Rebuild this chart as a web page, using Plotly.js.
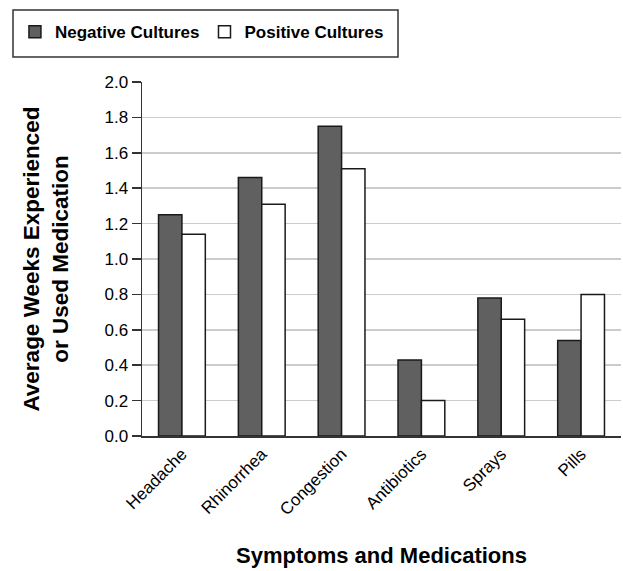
<!DOCTYPE html>
<html>
<head>
<meta charset="utf-8">
<script src="https://cdn.plot.ly/plotly-3.0.1.min.js"></script>
<style>html,body{margin:0;padding:0;background:#fff;}#chart{width:623px;height:571px;}</style>
</head>
<body>
<div id="chart"></div>
<script>
var categories = ["Headache", "Rhinorrhea", "Congestion", "Antibiotics", "Sprays", "Pills"];
var negativeCultures = [1.25, 1.46, 1.75, 0.43, 0.78, 0.54];
var positiveCultures = [1.14, 1.31, 1.51, 0.20, 0.66, 0.80];
var yTickVals = [0, 0.2, 0.4, 0.6, 0.8, 1.0, 1.2, 1.4, 1.6, 1.8, 2.0];
var yTickText = ["0.0", "0.2", "0.4", "0.6", "0.8", "1.0", "1.2", "1.4", "1.6", "1.8", "2.0"];

var FONT = "Liberation Sans, Arial, sans-serif";

var traces = [
  {
    type: "bar", name: "Negative Cultures", x: categories, y: negativeCultures,
    marker: {color: "#606060", line: {color: "#1a1a1a", width: 1.5}}
  },
  {
    type: "bar", name: "Positive Cultures", x: categories, y: positiveCultures,
    marker: {color: "#ffffff", line: {color: "#1a1a1a", width: 1.5}}
  }
];

var layout = {
  width: 623, height: 571,
  margin: {l: 142, r: 2, t: 82, b: 135},
  paper_bgcolor: "#fff", plot_bgcolor: "#fff",
  font: {family: FONT, color: "#000"},
  barmode: "group",
  bargap: 0.414,
  bargroupgap: 0,
  showlegend: true,
  legend: {
    orientation: "h",
    xref: "container", yref: "container",
    x: 0.024, y: 0.975, xanchor: "left", yanchor: "top",
    borderwidth: 0, bgcolor: "rgba(0,0,0,0)",
    font: {family: FONT, size: 17, color: "#000", weight: "bold"},
    itemwidth: 30,
    traceorder: "normal"
  },
  shapes: [{
    type: "rect", xref: "paper", yref: "paper", layer: "below",
    x0: (13 - 142) / 479, x1: (398 - 142) / 479,
    y0: 1 + (82 - 57) / 354, y1: 1 + (82 - 10) / 354,
    line: {color: "#333", width: 1.5}, fillcolor: "#fff"
  }],
  xaxis: {
    type: "category",
    tickangle: -45,
    tickfont: {family: FONT, size: 17, color: "#000"},
    showline: true, linecolor: "#333", linewidth: 1.5,
    ticks: "", showgrid: false,
    title: {text: "Symptoms and Medications", font: {family: FONT, size: 22, color: "#000", weight: "bold"}, standoff: 29}
  },
  yaxis: {
    range: [0, 2.0],
    tickvals: yTickVals, ticktext: yTickText,
    tickfont: {family: FONT, size: 17, color: "#000"},
    showline: true, linecolor: "#333", linewidth: 1.5,
    ticks: "outside", ticklen: 9, tickcolor: "#333", tickwidth: 1.5,
    showgrid: true, gridcolor: "#cccccc", gridwidth: 1.5,
    zeroline: false,
    title: {text: "Average Weeks Experienced<br>or Used Medication", font: {family: FONT, size: 22.5, color: "#000", weight: "bold"}, standoff: 29}
  }
};

Plotly.newPlot("chart", traces, layout, {displayModeBar: false, staticPlot: true});
</script>
</body>
</html>
